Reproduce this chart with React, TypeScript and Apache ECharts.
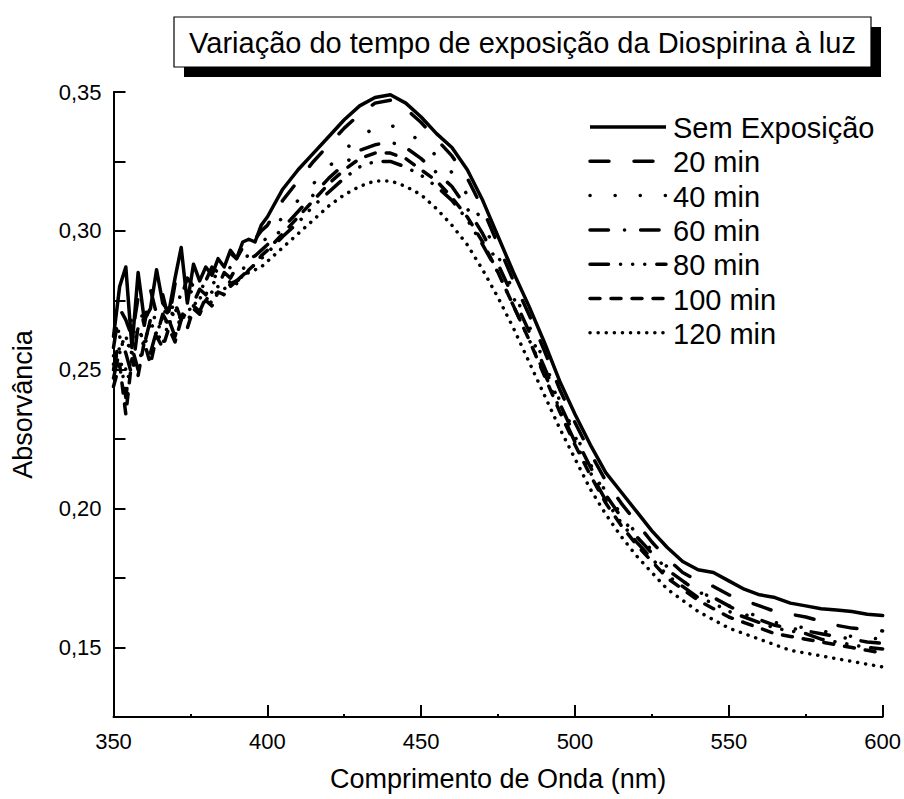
import React, { useEffect, useRef } from 'react';
import * as echarts from 'echarts';

const chartTitle = 'Variação do tempo de exposição da Diospirina à luz';
const xAxisName = 'Comprimento de Onda (nm)';
const yAxisName = 'Absorvância';

const wavelengths = [
  350, 352, 354, 356, 358, 360, 362, 364, 366, 368, 370, 372, 374, 376, 378, 380, 382, 384, 386, 388, 390, 392, 394, 396, 398, 400,
  405, 410, 415, 420, 425, 430, 435, 440, 445, 450, 455, 460, 465, 470, 475, 480, 485, 490, 495, 500,
  505, 510, 515, 520, 525, 530, 535, 540, 545, 550, 555, 560, 565, 570, 575, 580, 585, 590, 595, 600,
];

const semExposicao = [
  0.262, 0.280, 0.287, 0.258, 0.285, 0.268, 0.272, 0.286, 0.274, 0.271, 0.283, 0.294, 0.274, 0.288, 0.282, 0.287, 0.284, 0.290, 0.287, 0.293, 0.290, 0.296, 0.297, 0.296, 0.302, 0.305,
  0.315, 0.322, 0.328, 0.334, 0.340, 0.345, 0.348, 0.349, 0.346, 0.341, 0.335, 0.330, 0.322, 0.311, 0.298, 0.285, 0.273, 0.260, 0.246, 0.234,
  0.223, 0.213, 0.206, 0.199, 0.192, 0.186, 0.181, 0.178, 0.177, 0.174, 0.171, 0.169, 0.168, 0.166, 0.165, 0.164, 0.1635, 0.163, 0.162, 0.1615,
];

const min20 = [
  0.258, 0.272, 0.268, 0.262, 0.276, 0.266, 0.279, 0.270, 0.277, 0.268, 0.281, 0.276, 0.283, 0.280, 0.284, 0.282, 0.287, 0.285, 0.289, 0.292, 0.290, 0.294, 0.293, 0.297, 0.300, 0.302,
  0.311, 0.318, 0.325, 0.331, 0.337, 0.342, 0.346, 0.347, 0.344, 0.339, 0.333, 0.327, 0.319, 0.308, 0.295, 0.282, 0.270, 0.257, 0.243, 0.231,
  0.220, 0.210, 0.202, 0.195, 0.188, 0.182, 0.177, 0.174, 0.172, 0.169, 0.167, 0.165, 0.163, 0.162, 0.161, 0.1595, 0.158, 0.157, 0.1565, 0.156,
];

const min40 = [
  0.255, 0.266, 0.250, 0.270, 0.262, 0.274, 0.265, 0.271, 0.268, 0.276, 0.270, 0.278, 0.275, 0.280, 0.277, 0.283, 0.281, 0.286, 0.284, 0.287, 0.289, 0.288, 0.292, 0.294, 0.295, 0.298,
  0.305, 0.311, 0.317, 0.323, 0.329, 0.334, 0.337, 0.338, 0.336, 0.332, 0.327, 0.321, 0.313, 0.303, 0.291, 0.278, 0.266, 0.253, 0.239, 0.227,
  0.216, 0.206, 0.198, 0.191, 0.185, 0.179, 0.174, 0.170, 0.168, 0.165, 0.163, 0.161, 0.159, 0.158, 0.157, 0.156, 0.155, 0.154, 0.1535, 0.153,
];

const min60 = [
  0.250, 0.262, 0.256, 0.248, 0.266, 0.259, 0.268, 0.262, 0.270, 0.266, 0.274, 0.268, 0.276, 0.274, 0.279, 0.277, 0.282, 0.280, 0.285, 0.283, 0.287, 0.286, 0.290, 0.291, 0.293, 0.295,
  0.301, 0.307, 0.313, 0.319, 0.324, 0.329, 0.331, 0.332, 0.330, 0.326, 0.321, 0.316, 0.308, 0.299, 0.288, 0.276, 0.264, 0.251, 0.238, 0.226,
  0.215, 0.205, 0.197, 0.190, 0.184, 0.178, 0.174, 0.170, 0.168, 0.165, 0.162, 0.160, 0.158, 0.157, 0.156, 0.155, 0.154, 0.153, 0.152, 0.1515,
];

const min80 = [
  0.247, 0.257, 0.240, 0.258, 0.250, 0.262, 0.256, 0.264, 0.259, 0.268, 0.262, 0.270, 0.267, 0.273, 0.271, 0.276, 0.274, 0.279, 0.277, 0.281, 0.282, 0.284, 0.286, 0.288, 0.290, 0.292,
  0.298, 0.303, 0.309, 0.314, 0.319, 0.323, 0.325, 0.325, 0.323, 0.320, 0.316, 0.311, 0.304, 0.295, 0.285, 0.273, 0.261, 0.249, 0.236, 0.224,
  0.213, 0.203, 0.195, 0.188, 0.182, 0.176, 0.172, 0.168, 0.166, 0.163, 0.161, 0.159, 0.157, 0.156, 0.155, 0.153, 0.152, 0.151, 0.150, 0.1495,
];

const min100 = [
  0.244, 0.252, 0.234, 0.254, 0.248, 0.260, 0.252, 0.262, 0.258, 0.265, 0.260, 0.268, 0.265, 0.272, 0.270, 0.275, 0.273, 0.278, 0.277, 0.280, 0.282, 0.283, 0.286, 0.288, 0.291, 0.293,
  0.299, 0.305, 0.311, 0.317, 0.322, 0.326, 0.328, 0.328, 0.326, 0.322, 0.318, 0.312, 0.305, 0.296, 0.285, 0.273, 0.261, 0.248, 0.235, 0.223,
  0.212, 0.202, 0.194, 0.187, 0.181, 0.175, 0.171, 0.167, 0.164, 0.161, 0.159, 0.157, 0.155, 0.154, 0.153, 0.152, 0.151, 0.150, 0.149, 0.148,
];

const min120 = [
  0.252, 0.258, 0.262, 0.256, 0.265, 0.260, 0.267, 0.263, 0.269, 0.266, 0.272, 0.268, 0.271, 0.273, 0.276, 0.275, 0.278, 0.280, 0.279, 0.282, 0.281, 0.284, 0.285, 0.286, 0.287, 0.289,
  0.294, 0.299, 0.304, 0.309, 0.313, 0.316, 0.318, 0.318, 0.316, 0.313, 0.308, 0.302, 0.295, 0.286, 0.276, 0.265, 0.253, 0.241, 0.229, 0.218,
  0.207, 0.198, 0.190, 0.183, 0.177, 0.171, 0.167, 0.163, 0.160, 0.157, 0.155, 0.153, 0.151, 0.149, 0.148, 0.147, 0.146, 0.145, 0.144, 0.143,
];

const seriesNames = ['Sem Exposição', '20 min', '40 min', '60 min', '80 min', '100 min', '120 min'];
const seriesValues = [semExposicao, min20, min40, min60, min80, min100, min120];

const xMin = 350;
const xMax = 600;
const xStep = 50;
const yMin = 0.125;
const yMax = 0.35;
const yStep = 0.025;

// style only
const dashStyles: (number[] | 'solid')[] = [
  'solid',
  [19, 25],
  [0.1, 25],
  [18.5, 16, 0.1, 16],
  [18.5, 12, 0.1, 12, 0.1, 12, 0.1, 12],
  [10, 11],
  [0.1, 8],
];

const FONT = '"Liberation Sans", Arial, Helvetica, sans-serif';

export default function App() {
  const ref = useRef<HTMLDivElement>(null);
  useEffect(() => {
    if (!ref.current) return;
    const chart = echarts.init(ref.current, null, { renderer: 'svg' });
    const legendTop = 127;
    const legendGap = 34.3;
    const graphic: any[] = [
      { type: 'rect', shape: { x: 184, y: 27, width: 697, height: 50 }, style: { fill: '#000' }, z: 10 },
      { type: 'rect', shape: { x: 174, y: 17, width: 697, height: 50 }, style: { fill: '#fff', stroke: '#000', lineWidth: 1.2 }, z: 11 },
      {
        type: 'text', x: 522.5, y: 43, z: 12,
        style: { text: chartTitle, fill: '#000', font: `29px ${FONT}`, align: 'center', verticalAlign: 'middle' },
      },
    ];
    seriesNames.forEach((name, i) => {
      const y = legendTop + i * legendGap;
      const d = dashStyles[i];
      graphic.push({
        type: 'line', z: 12,
        shape: { x1: 590, y1: y, x2: 666, y2: y },
        style: {
          stroke: '#000', lineWidth: 3.5, lineCap: d === 'solid' ? 'butt' : 'round',
          lineDash: d === 'solid' ? null : d,
        },
      });
      graphic.push({
        type: 'text', x: 673, y: y + 1, z: 12,
        style: { text: name, fill: '#000', font: `29px ${FONT}`, align: 'left', verticalAlign: 'middle' },
      });
    });

    const option: any = {
      animation: false,
      backgroundColor: '#fff',
      textStyle: { fontFamily: FONT },
      grid: { left: 113.5, right: 19.5, top: 92, bottom: 82, containLabel: false },
      xAxis: {
        type: 'value', min: xMin, max: xMax, interval: xStep,
        name: xAxisName, nameLocation: 'middle', nameGap: 48,
        nameTextStyle: { fontSize: 27, color: '#000', fontFamily: FONT },
        axisLine: { show: true, onZero: false, lineStyle: { color: '#000', width: 2 } },
        axisTick: { show: true, inside: true, length: 12, lineStyle: { color: '#000', width: 2 } },
        minorTick: { show: true, splitNumber: 2, length: 3, lineStyle: { color: '#000', width: 2 } },
        axisLabel: { fontSize: 22, color: '#000', margin: 13, fontFamily: FONT },
        splitLine: { show: false },
      },
      yAxis: {
        type: 'value', min: yMin, max: yMax, interval: yStep,
        name: yAxisName, nameLocation: 'middle', nameGap: 77, nameRotate: 90,
        nameTextStyle: { fontSize: 27, color: '#000', fontFamily: FONT },
        axisLine: { show: true, onZero: false, lineStyle: { color: '#000', width: 2 } },
        axisTick: {
          show: true, inside: true, length: 12, lineStyle: { color: '#000', width: 2 },
          interval: (index: number) => index % 2 === 1,
        },
        axisLabel: {
          fontSize: 22, color: '#000', margin: 12, fontFamily: FONT,
          interval: (index: number) => index % 2 === 1,
          showMinLabel: false, showMaxLabel: true,
          formatter: (v: number) => {
            const k = Math.round(v * 1000);
            if (k % 50 !== 0) return '';
            return (k / 1000).toFixed(2).replace('.', ',');
          },
        },
        splitLine: { show: false },
      },
      graphic,
      series: seriesNames.map((name, i) => {
        const d = dashStyles[i];
        return {
          name,
          type: 'line',
          showSymbol: false,
          symbol: 'none',
          smooth: false,
          clip: true,
          data: wavelengths.map((x, j) => [x, seriesValues[i][j]]),
          lineStyle: {
            color: '#000', width: 3.5,
            type: d === 'solid' ? 'solid' : d,
            cap: 'round',
            join: 'round',
          },
          emphasis: { disabled: true },
          z: 10 - i,
        };
      }),
    };
    chart.setOption(option);
    return () => chart.dispose();
  }, []);
  return <div ref={ref} style={{ position: 'absolute', left: 0, top: 0, width: 904, height: 799, background: '#fff' }} />;
}
